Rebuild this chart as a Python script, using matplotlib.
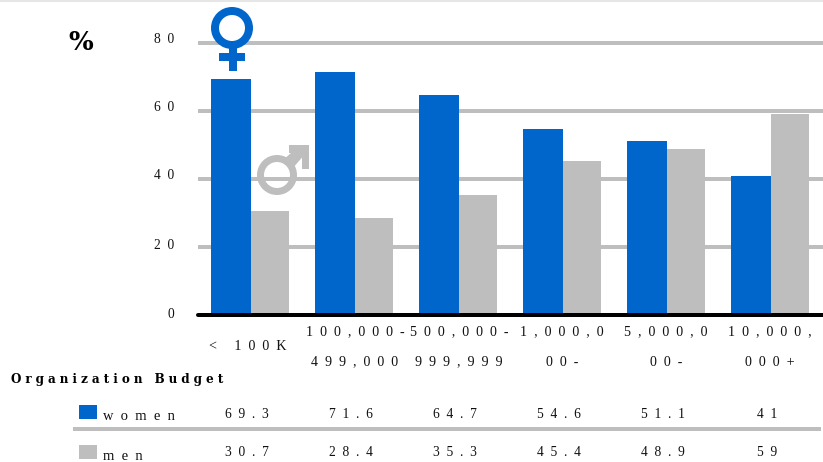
import matplotlib
matplotlib.use("Agg")
import matplotlib.pyplot as plt
from matplotlib.patches import Polygon, Rectangle, Wedge
from matplotlib.transforms import ScaledTranslation, blended_transform_factory
import numpy as np

# ---- data ----
budget_labels = ["< 100K", "100,000-\n499,000", "500,000-\n999,999",
                 "1,000,0\n00-", "5,000,0\n00-", "10,000,\n000+"]
women = [69.3, 71.6, 64.7, 54.6, 51.1, 41]
men = [30.7, 28.4, 35.3, 45.4, 48.9, 59]
women_text = ["69.3", "71.6", "64.7", "54.6", "51.1", "41"]
men_text = ["30.7", "28.4", "35.3", "45.4", "48.9", "59"]
y_ticks = [0, 20, 40, 60, 80]

BLUE = "#0066CC"
GREY = "#BEBEBE"
INK = "#111111"
W, H = 823, 462
PX = 0.72  # points per pixel at 100 dpi
FONT = "Liberation Serif"
HEAVY = "DejaVu Serif"
BODY = 13.5 * PX


def tracked(s, gap="\u2002"):
    """Open up letter spacing, line by line (en space by default)."""
    return "\n".join(gap.join(line) for line in s.split("\n"))


fig = plt.figure(figsize=(W / 100, H / 100), dpi=100, facecolor="white")

# Plot area is laid out in pixels: baseline 315, 3.4 px per percent, 104 px per group
baseline, top_px, left_px = 315, 36, 198
ax = fig.add_axes([left_px / W, 1 - baseline / H, (W - left_px) / W, (baseline - top_px) / H])
ax.set_xlim((left_px - 251) / 104, (W - 251) / 104)
ax.set_ylim(0, (baseline - top_px) / 3.4)

x = np.arange(len(women))
ax.bar(x, women, width=-40 / 104, align="edge", color=BLUE, linewidth=0)
ax.bar(x, men, width=38 / 104, align="edge", color=GREY, linewidth=0)

ax.set_axisbelow(True)
ax.set_yticks(y_ticks)
ax.set_yticklabels([tracked(str(v)) for v in y_ticks], fontfamily=FONT, fontsize=BODY, color=INK)
ax.grid(axis="y", color=GREY, linewidth=4 * PX)
for gl in ax.get_ygridlines():
    gl.set_solid_capstyle("round")
ax.tick_params(axis="y", length=0, pad=24 * PX)

# Value labels sit a few pixels above their gridlines
for lab, dy in zip(ax.get_yticklabels(), [2, 3, 5, 5, 5]):
    lab.set_transform(lab.get_transform() + ScaledTranslation(0, dy * PX / 72, fig.dpi_scale_trans))

ax.set_xticks(x)
ax.set_xticklabels([tracked(s) for s in budget_labels], fontfamily=FONT, fontsize=14 * PX,
                   color=INK, va="center", ha="center", linespacing=2.7)
ax.tick_params(axis="x", length=0, pad=32 * PX)
for lab, dx in zip(ax.get_xticklabels(), [-3, 0, 0, -1, -1, -1]):
    lab.set_transform(lab.get_transform() + ScaledTranslation(dx * PX / 72, 0, fig.dpi_scale_trans))

for side in ("top", "left", "right"):
    ax.spines[side].set_visible(False)
ax.spines["bottom"].set_color("black")
ax.spines["bottom"].set_linewidth(4 * PX)
ax.spines["bottom"].set_capstyle("round")

# Overlay in pixel coordinates for the table, the legend swatches and the gender signs
ov = fig.add_axes([0, 0, 1, 1], facecolor="none")
ov.set_xlim(0, W)
ov.set_ylim(H, 0)
ov.axis("off")

ov.add_patch(Rectangle((0, 0), W, 1.5, color="#E6E6E6", linewidth=0))

# Venus sign
ov.add_patch(Wedge((232, 28), 21, 0, 360, width=8, color=BLUE, linewidth=0, zorder=5))
ov.add_patch(Rectangle((229, 48), 8, 23, color=BLUE, linewidth=0, zorder=5))
ov.add_patch(Rectangle((219, 53), 26, 8, color=BLUE, linewidth=0, zorder=5))

# Mars sign
ov.add_patch(Wedge((277, 175), 20, 0, 360, width=7, color=GREY, linewidth=0, zorder=5))
ov.add_patch(Polygon([(283, 160), (299, 146), (306, 153), (292, 169)], color=GREY, linewidth=0, zorder=5))
ov.add_patch(Polygon([(289, 145), (309, 145), (309, 169), (302, 169), (302, 153), (289, 153)],
                     color=GREY, linewidth=0, zorder=5))

ov.text(81, 42.5, "%", fontfamily=HEAVY, fontweight="bold", fontsize=26 * PX,
        ha="center", va="center", color="black")
ov.text(11, 379.5, tracked("Organization Budget", "\u2004"), fontfamily=HEAVY, fontweight="bold",
        fontsize=12 * PX, ha="left", va="center", color="black")

# Table below the chart
ov.add_patch(Rectangle((79, 405), 18, 14, color=BLUE, linewidth=0))
ov.add_patch(Rectangle((79, 445), 18, 14, color=GREY, linewidth=0))
ov.add_patch(Rectangle((73, 427), 748, 4, color=GREY, linewidth=0))
ov.text(103, 416, tracked("women"), fontfamily=FONT, fontsize=14.5 * PX, ha="left", va="center", color=INK)
ov.text(103, 456, tracked("men"), fontfamily=FONT, fontsize=14.5 * PX, ha="left", va="center", color=INK)

table_tf = blended_transform_factory(ax.transData, ov.transData)
for i, (wt, mt) in enumerate(zip(women_text, men_text)):
    ov.text(i - 4 / 104, 414, tracked(wt), transform=table_tf, fontfamily=FONT, fontsize=BODY,
            ha="center", va="center", color=INK)
    ov.text(i - 4 / 104, 452, tracked(mt), transform=table_tf, fontfamily=FONT, fontsize=BODY,
            ha="center", va="center", color=INK)

fig.savefig("out.png", dpi=100)
